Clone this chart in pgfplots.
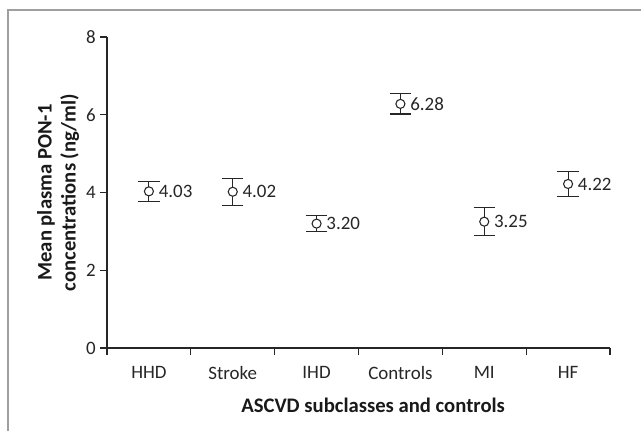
\documentclass[border=0pt]{standalone}
\usepackage{pgfplots}
\pgfplotsset{compat=1.18}
\usepackage{fontspec}
\setmainfont{Carlito}

\begin{document}
\begin{tikzpicture}
% picture in pixel units of the reference: 1px = 0.75pt
\useasboundingbox (0,0) rectangle (480.75pt,-322.5pt);
\draw[gray!75, line width=0.8pt] (6pt,-330pt) |- (490pt,-7.5pt);
\begin{axis}[
    at={(80.25pt,-261pt)}, anchor=south west,
    scale only axis,
    width=377.25pt, height=233.25pt,
    xmin=0.5, xmax=6.5,
    ymin=0, ymax=8,
    axis lines=left,
    axis line style={-, line width=0.8pt, black!85},
    xtick={1,2,3,4,5,6},
    xticklabels={HHD,Stroke,IHD,Controls,MI,HF},
    major x tick style={draw=none},
    minor xtick={0.5,1.5,2.5,3.5,4.5,5.5,6.5},
    minor tick length=5pt,
    minor x tick style={line width=0.8pt, black!85},
    ytick={0,2,4,6,8},
    major tick length=5pt,
    y tick style={line width=0.8pt, black!85},
    tick align=outside,
    tick label style={font=\fontsize{14.2}{16}\selectfont, text=black!85},
    xticklabel style={yshift=-5pt},
    /pgf/number format/assume math mode=true,
    xlabel={ASCVD subclasses and controls},
    xlabel style={font=\fontsize{15.5}{17}\selectfont\bfseries, text=black!90,
        at={(axis description cs:0.529,-0.183)}, anchor=center},
    ylabel={Mean plasma PON-1\\concentrations (ng/ml)},
    ylabel style={font=\fontsize{15.5}{18}\selectfont\bfseries, text=black!90, align=center,
        at={(axis description cs:-0.097,0.5)}, anchor=center},
    clip=false,
]
% error bars first
\addplot[
    only marks, mark=none,
    error bars/.cd,
      y dir=both, y explicit,
      error mark=-,
      error mark options={line width=0.8pt, black!85, mark size=8pt, rotate=90},
      error bar style={line width=0.8pt, black!85},
] table[x=x, y=y, y error=e] {
x y e
1 4.03 0.25
2 4.02 0.35
3 3.20 0.20
4 6.28 0.26
5 3.25 0.36
6 4.22 0.33
};
% open circles and value labels on top
\addplot[
    only marks,
    mark=*, mark size=3.4pt,
    mark options={line width=0.8pt, draw=black!85, fill=white},
    nodes near coords, point meta=explicit symbolic,
    nodes near coords align={anchor=west},
    every node near coord/.append style={font=\fontsize{14.2}{16}\selectfont, text=black!85, xshift=6pt, inner sep=1pt},
] table[x=x, y=y, meta=l] {
x y l
1 4.03 4.03
2 4.02 4.02
3 3.20 3.20
4 6.28 6.28
5 3.25 3.25
6 4.22 4.22
};
\end{axis}
\end{tikzpicture}
\end{document}
